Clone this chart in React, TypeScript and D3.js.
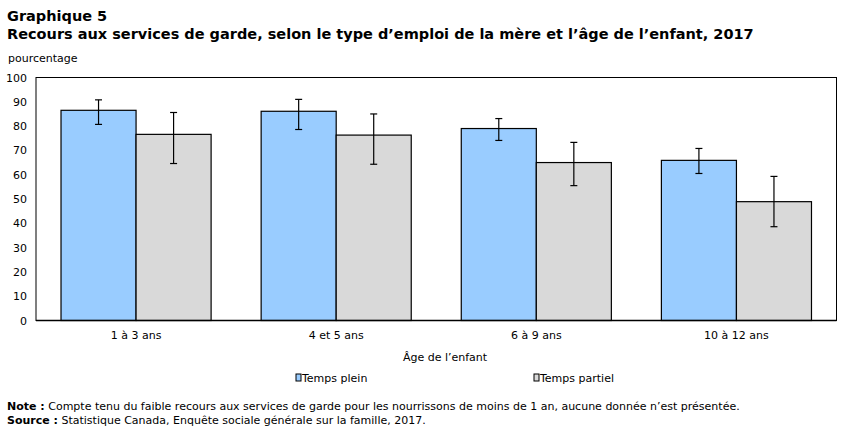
import React from "react";
import * as d3 from "d3";

const categories = ["1 à 3 ans", "4 et 5 ans", "6 à 9 ans", "10 à 12 ans"];
const seriesNames = ["Temps plein", "Temps partiel"];
const fullTime = [86.5, 86.1, 79.0, 65.9];
const fullTimeLow = [80.7, 78.6, 74.1, 60.5];
const fullTimeHigh = [90.8, 91.0, 83.1, 70.8];
const partTime = [76.6, 76.3, 65.0, 48.9];
const partTimeLow = [64.6, 64.3, 55.5, 38.6];
const partTimeHigh = [85.6, 85.0, 73.3, 59.3];
const yTicks = [0, 10, 20, 30, 40, 50, 60, 70, 80, 90, 100];
const colors = ["#99CCFF", "#D9D9D9"];

const W = 848;
const H = 431;
const left = 36;
const right = 836.5;
const top = 77.5;
const bottom = 320.5;
const FONT = "'DejaVu Sans', Verdana, sans-serif";

export default function App() {
  const x = d3.scaleBand<string>().domain(categories).range([left, right]).paddingInner(0.25).paddingOuter(0.125);
  const xs = d3.scaleBand<string>().domain(seriesNames).range([0, x.bandwidth()]);
  const y = d3.scaleLinear().domain([0, 100]).range([bottom, top]);

  const series = [
    { name: seriesNames[0], vals: fullTime, lo: fullTimeLow, hi: fullTimeHigh, color: colors[0] },
    { name: seriesNames[1], vals: partTime, lo: partTimeLow, hi: partTimeHigh, color: colors[1] },
  ];

  const legendX = [296, 534];

  return (
    <svg width={W} height={H} style={{ position: "absolute", left: 0, top: 0, background: "#fff" }} fontFamily={FONT}>
      <text x={7} y={21} fontSize={14.5} fontWeight="bold" fill="#000">Graphique 5</text>
      <text x={7} y={39} fontSize={14.5} fontWeight="bold" fill="#000">
        Recours aux services de garde, selon le type d’emploi de la mère et l’âge de l’enfant, 2017
      </text>
      <text x={8} y={62} fontSize={11} fill="#000">pourcentage</text>

      {/* plot frame */}
      <rect x={left} y={top} width={right - left} height={bottom - top} fill="none" stroke="#000" strokeWidth={1} />

      {yTicks.map((t) => (
        <text key={t} x={27} y={y(t) + 4} fontSize={11} textAnchor="end" fill="#000">{t}</text>
      ))}

      {series.map((s) =>
        categories.map((c, i) => {
          const bx = (x(c) as number) + (xs(s.name) as number);
          const bw = xs.bandwidth();
          const cx = bx + bw / 2;
          return (
            <g key={s.name + c}>
              <rect x={bx} y={y(s.vals[i])} width={bw} height={y(0) - y(s.vals[i])} fill={s.color} stroke="#000" strokeWidth={1.2} />
              <line x1={cx} x2={cx} y1={y(s.hi[i])} y2={y(s.lo[i])} stroke="#000" strokeWidth={1.2} />
              <line x1={cx - 3.5} x2={cx + 3.5} y1={y(s.hi[i])} y2={y(s.hi[i])} stroke="#000" strokeWidth={1.2} />
              <line x1={cx - 3.5} x2={cx + 3.5} y1={y(s.lo[i])} y2={y(s.lo[i])} stroke="#000" strokeWidth={1.2} />
            </g>
          );
        })
      )}

      <line x1={left} x2={right} y1={bottom} y2={bottom} stroke="#000" strokeWidth={1.5} />

      {categories.map((c) => (
        <text key={c} x={(x(c) as number) + x.bandwidth() / 2} y={339} fontSize={11} textAnchor="middle" fill="#000">{c}</text>
      ))}
      <text x={445} y={361} fontSize={11} textAnchor="middle" fill="#000">Âge de l’enfant</text>

      {series.map((s, i) => (
        <g key={s.name}>
          <rect x={legendX[i]} y={374} width={5} height={7} fill={s.color} stroke="#000" strokeWidth={1} />
          <text x={legendX[i] + 6} y={382} fontSize={11} fill="#000">{s.name}</text>
        </g>
      ))}

      <text x={7} y={410} fontSize={11} fill="#000">
        <tspan fontWeight="bold">Note :</tspan>
        <tspan> Compte tenu du faible recours aux services de garde pour les nourrissons de moins de 1 an, aucune donnée n’est présentée.</tspan>
      </text>
      <text x={7} y={424} fontSize={11} fill="#000">
        <tspan fontWeight="bold">Source :</tspan>
        <tspan> Statistique Canada, Enquête sociale générale sur la famille, 2017.</tspan>
      </text>
    </svg>
  );
}
